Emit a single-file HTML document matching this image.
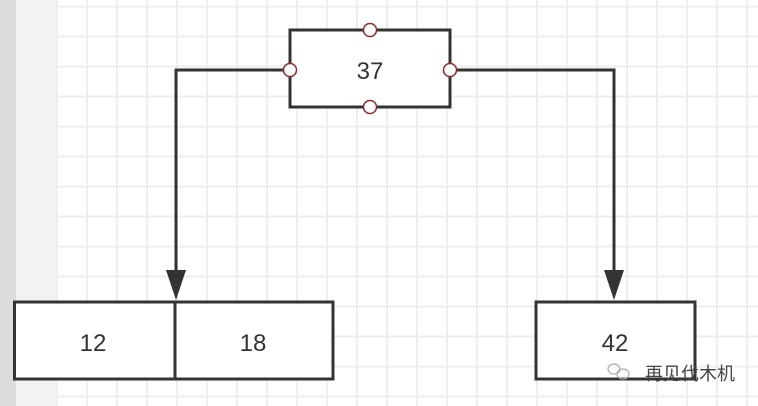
<!DOCTYPE html>
<html><head><meta charset="utf-8"><style>
html,body{margin:0;padding:0;width:758px;height:406px;overflow:hidden;background:#fff}
</style></head><body>
<svg width="758" height="406" viewBox="0 0 758 406" xmlns="http://www.w3.org/2000/svg" style="position:absolute;left:0;top:0">
<defs>
<pattern id="g" x="56" y="5.5" width="30" height="30" patternUnits="userSpaceOnUse">
<rect x="0" y="0" width="2" height="30" fill="#eeeeee"/>
<rect x="0" y="0" width="30" height="2" fill="#eeeeee"/>
</pattern>
</defs>
<rect x="0" y="0" width="758" height="406" fill="#fff"/>
<rect x="56" y="0" width="702" height="406" fill="url(#g)"/>
<rect x="0" y="0" width="16" height="406" fill="#dcdcdc"/>
<rect x="16" y="0" width="40" height="406" fill="#f2f2f2"/>
<g stroke="#333" stroke-width="3" fill="none">
<polyline points="290,70 176,70 176,272"/>
<polyline points="450,70 614,70 614,272"/>
</g>
<polygon points="166,270 186,270 176,300" fill="#333"/>
<polygon points="604,270 624,270 614,300" fill="#333"/>
<g stroke="#333" stroke-width="3" fill="#fff">
<rect x="290" y="30" width="160" height="77"/>
<rect x="14.5" y="302" width="160.5" height="77"/>
<rect x="175" y="302" width="158" height="77"/>
<rect x="536" y="302" width="159" height="77"/>
</g>
<g stroke="#8b2a2a" stroke-width="1.5" fill="#fff">
<circle cx="370" cy="30" r="6.5"/>
<circle cx="370" cy="107" r="6.5"/>
<circle cx="290" cy="70" r="6.5"/>
<circle cx="450" cy="70" r="6.5"/>
</g>
<g font-family="Liberation Sans, sans-serif" font-size="24" fill="#333" text-anchor="middle">
<text x="370" y="79">37</text>
<text x="93" y="351">12</text>
<text x="253" y="351">18</text>
<text x="615" y="351">42</text>
</g>
<g fill="none" stroke="#aaa" stroke-width="1.2">
<ellipse cx="614" cy="369" rx="6" ry="5"/>
<ellipse cx="623" cy="374" rx="6" ry="5"/>
</g>
<text x="645" y="380" font-family="Liberation Sans, 'Noto Sans CJK SC', sans-serif" font-size="18" fill="#444">再见伐木机</text>
</svg>
</body></html>
